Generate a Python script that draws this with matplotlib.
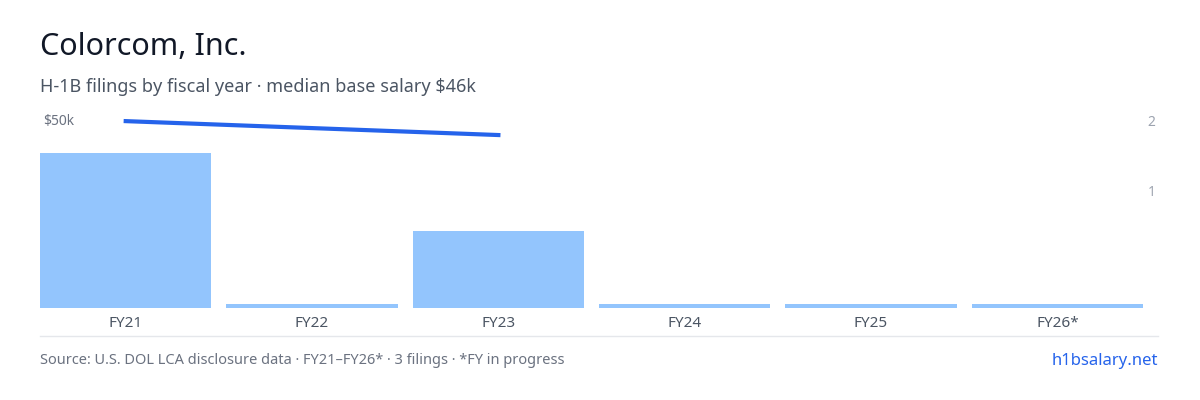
import matplotlib
matplotlib.use("Agg")
import matplotlib.pyplot as plt
from matplotlib.lines import Line2D

years = ["FY21", "FY22", "FY23", "FY24", "FY25", "FY26*"]
filings = [2, 0, 1, 0, 0, 0]
salary_years = [0, 2]
salary = [49.7, 46.0]

plt.rcParams['font.family'] = ['Noto Sans', 'DejaVu Sans']
fig = plt.figure(figsize=(12, 4), dpi=100)
L, R, B, T = 40/1200, 1158/1200, 1-308/400, 1-115/400
ax = fig.add_axes([L, B, R-L, T-B])
ax2 = ax.twinx()
unit = 77.5
top = (308-115)/unit
stub = 4/unit
ax.bar(range(6), [max(v, stub) for v in filings], width=0.92, color="#93c5fd")
ax.set_xlim(-0.46, 5.54)
ax.set_ylim(0, top)
ax.set_xticks(range(6), years)
ax.tick_params(axis='x', length=0, colors="#4b5563", labelsize=11, pad=6)

# filings axis on the right
ax2.set_ylim(0, top)
ax2.set_yticks([(308-120)/unit, (308-190)/unit], ["2", "1"])
ax2.tick_params(axis='y', length=0, colors="#9ca3af", labelsize=10, pad=-2)
for lab in ax2.get_yticklabels():
    lab.set_horizontalalignment('right')

# salary line on the left axis
ax.set_yticks([])
ax3 = ax.twinx()
ax3.set_ylim(0, 50*(308-115)/(308-120))
ax3.plot(salary_years, salary, color="#2563eb", lw=3)
ax3.yaxis.tick_left()
ax3.set_yticks([50], ["$50k"])
ax3.tick_params(axis='y', length=0, colors="#6b7280", labelsize=10, pad=-2)
for lab in ax3.get_yticklabels():
    lab.set_horizontalalignment('left')
ax2.yaxis.tick_right()
for a in (ax, ax2, ax3):
    for s in a.spines.values():
        s.set_visible(False)

fig.add_artist(Line2D([L, R], [1-336/400]*2, color="#e5e7eb", lw=1))
fig.text(40/1200, 1-47/400, "Colorcom, Inc.", fontsize=22, color="#111827", va="center")
fig.text(40/1200, 1-87/400, "H-1B filings by fiscal year · median base salary $46k", fontsize=13, color="#4b5563", va="center")
fig.text(40/1200, 1-361/400, "Source: U.S. DOL LCA disclosure data · FY21–FY26* · 3 filings · *FY in progress", fontsize=10.5, color="#6b7280", va="center")
fig.text(1158/1200, 1-361/400, "h1bsalary.net", fontsize=12, color="#2563eb", va="center", ha="right")
fig.savefig("out.png")
